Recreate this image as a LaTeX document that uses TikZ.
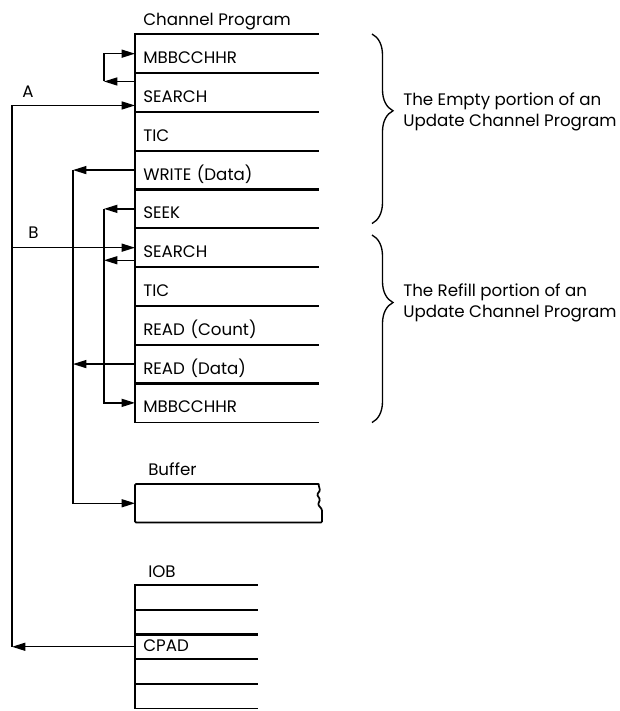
\documentclass[tikz,border=0pt]{standalone}
\usepackage{fontspec}
\setmainfont{Poppins}
\usetikzlibrary{calc, positioning, arrows.meta, decorations.pathreplacing}

\tikzset{
  cprow/.style={anchor=north west, minimum width=137.25pt, minimum height=29.1pt,
    inner xsep=6pt, inner ysep=0pt, text width=125.25pt, align=left,
    text height=15pt, text depth=0pt},
  iobrow/.style={cprow, minimum width=91.5pt, minimum height=18.45pt,
    text width=79.5pt, text height=7.5pt},
  box/.style={line width=1.3pt},
  conn/.style={line width=1pt},
  arr/.style={-{Triangle[length=10pt,width=6pt]}},
  bracket/.style={line width=1pt, decorate,
    decoration={brace, amplitude=15.75pt, aspect=#1}},
  lbl/.style={anchor=base west, inner sep=0pt},
}

\begin{document}
\begin{tikzpicture}[x=0.75pt, y=-0.75pt, font=\fontsize{12.5}{15.4}\selectfont]
  \useasboundingbox (0,0) rectangle (619,711);

  % channel program
  \node[lbl] (cptitle) at (143,25) {Channel Program};
  \foreach \name/\txt [count=\i] in {mbb1/MBBCCHHR, search1/SEARCH, tic1/TIC,
      write/{WRITE (Data)}, seek/SEEK, search2/SEARCH, tic2/TIC,
      readc/{READ (Count)}, readd/{READ (Data)}, mbb2/MBBCCHHR}
    \node[cprow] (\name) at (135,{34+38.8*(\i-1)}) {\txt};
  \foreach \r in {mbb1,search1,tic1,write,seek,search2,tic2,readc,readd,mbb2}
    \draw[box] (\r.north east) -- (\r.north west) -- (\r.south west) -- (\r.south east);

  % buffer
  \node[lbl] (buflbl) at (148,475) {Buffer};
  \node[cprow, minimum height=28.5pt] (buffer) at (135,484) {};
  \draw[box, rounded corners=0.8pt] (buffer.north east) -- (buffer.north west)
    -- (buffer.south west) -- ($(buffer.south east)+(3.5,0)$) -- ++(0,-13)
    -- ++(-4,-5) -- ++(2,-5) -- ++(-3,-5) -- ++(3,-4) -- ++(-1.5,-6) -- (buffer.north east);

  % IOB
  \node[lbl] (ioblbl) at (148,577) {IOB};
  \foreach \name/\txt [count=\i] in {iob1/{}, iob2/{}, cpad/CPAD, iob4/{}, iob5/{}}
    \node[iobrow] (\name) at (135,{585+24.6*(\i-1)}) {\txt};
  \foreach \r in {iob1,iob2,cpad,iob4,iob5}
    \draw[box] (\r.north east) -- (\r.north west) -- (\r.south west) -- (\r.south east);

  % braces
  \coordinate (brx) at (372,0);
  \draw[bracket=0.405] (brx |- mbb1.north) -- ($(brx |- seek.south)+(0,-5)$);
  \draw[bracket=0.36] ($(brx |- search2.north)+(0,7)$) -- (brx |- mbb2.south);
  \node[anchor=west, align=left, inner sep=0pt] (empty) at (403,112)
    {The Empty portion of an\\Update Channel Program};
  \node[anchor=west, align=left, inner sep=0pt] (refill) at (403,303)
    {The Refill portion of an\\Update Channel Program};

  % trunks
  \coordinate (trunkA) at (12,0);
  \coordinate (trunkW) at (73,0);
  \coordinate (trunkS) at (104,0);

  % loop MBBCCHHR <- SEARCH
  \draw[conn, arr] ($(search1.west)+(0,-11)$) coordinate (l1) -- (l1 -| trunkS) coordinate (l2);
  \draw[conn, arr] (l2) |- (mbb1.west);

  % A: CPAD -> SEARCH
  \draw[conn, arr] (cpad.west) -- (cpad.west -| trunkA) coordinate (a1);
  \draw[conn, arr] (a1) |- ($(search1.west)+(0,13)$);
  \node[lbl] (labA) at (22,97) {A};

  % B
  \draw[conn, arr] (search2.west -| trunkA) -- (search2.west);
  \node[lbl] (labB) at (28,238) {B};

  % SEEK / SEARCH -> MBBCCHHR
  \draw[conn, arr] ($(search2.west)+(0,12.6)$) coordinate (s1) -- (s1 -| trunkS);
  \draw[conn, arr] (seek.west) -- (seek.west -| trunkS) coordinate (k1);
  \draw[conn, arr] (k1) |- (mbb2.west);

  % data -> buffer
  \draw[conn, arr] (write.west) -- (write.west -| trunkW) coordinate (w1);
  \draw[conn, arr] (w1) |- (buffer.west);
  \draw[conn, arr] (readd.west) -- (readd.west -| trunkW);
\end{tikzpicture}
\end{document}
